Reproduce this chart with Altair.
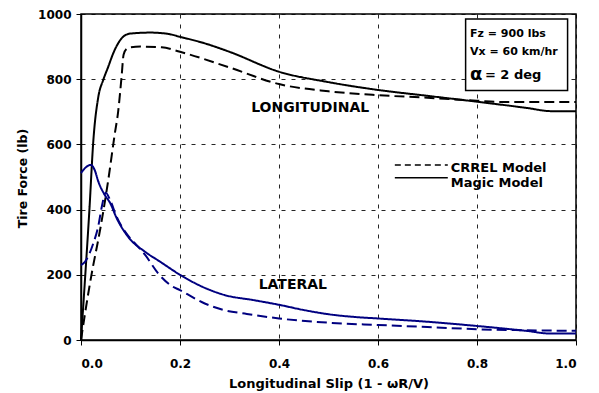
import altair as alt
import pandas as pd

# ---- data ----
long_magic_x = [0.0, 0.008, 0.017, 0.025, 0.035, 0.045, 0.055, 0.065, 0.075, 0.085, 0.10, 0.14, 0.176, 0.20, 0.25, 0.30, 0.40, 0.50, 0.60, 0.70, 0.80, 0.90, 0.95, 1.0]
long_magic_y = [0, 184, 400, 613, 746, 798, 838, 879, 910, 930, 940, 943, 939, 930, 910, 884, 823, 791, 767, 749, 731, 712, 702, 702]

long_crrel_x = [0.0, 0.008, 0.02, 0.04, 0.055, 0.068, 0.075, 0.082, 0.086, 0.092, 0.10, 0.12, 0.163, 0.20, 0.30, 0.40, 0.50, 0.60, 0.70, 0.80, 0.85, 1.0]
long_crrel_y = [0, 80, 190, 350, 490, 630, 700, 808, 875, 893, 898, 900, 898, 884, 836, 785, 763, 751, 743, 734, 730, 730]

lat_magic_x = [0.0, 0.01, 0.02, 0.028, 0.035, 0.048, 0.059, 0.072, 0.095, 0.13, 0.16, 0.20, 0.25, 0.29, 0.35, 0.40, 0.45, 0.50, 0.55, 0.60, 0.70, 0.80, 0.90, 0.947, 1.0]
lat_magic_y = [512, 530, 537, 520, 486, 445, 420, 374, 317, 270, 240, 200, 160, 138, 122, 108, 92, 79, 71, 66, 56, 43, 28, 20, 20]

lat_crrel_x = [0.0, 0.008, 0.025, 0.035, 0.042, 0.05, 0.06, 0.072, 0.095, 0.11, 0.13, 0.156, 0.183, 0.20, 0.25, 0.288, 0.335, 0.40, 0.50, 0.60, 0.70, 0.80, 0.90, 1.0]
lat_crrel_y = [230, 240, 297, 350, 409, 452, 425, 378, 320, 295, 260, 204, 166, 153, 112, 92, 80, 66, 53, 46, 40, 33, 30, 28]

x_ticks = [0.0, 0.2, 0.4, 0.6, 0.8, 1.0]
y_ticks = [0, 200, 400, 600, 800, 1000]

FONT = "DejaVu Sans"

rows = []
for part, model, xs, ys in [
    ("Longitudinal", "CRREL", long_crrel_x, long_crrel_y),
    ("Longitudinal", "Magic", long_magic_x, long_magic_y),
    ("Lateral", "CRREL", lat_crrel_x, lat_crrel_y),
    ("Lateral", "Magic", lat_magic_x, lat_magic_y),
]:
    for i, (a, b) in enumerate(zip(xs, ys)):
        rows.append({"x": a, "y": b, "part": part, "model": model, "idx": i})
df = pd.DataFrame(rows)

xscale = alt.Scale(domain=[0, 1], nice=False, zero=False)
yscale = alt.Scale(domain=[0, 1000], nice=False)

xaxis = alt.Axis(
    values=x_ticks, format=".1f", title="Longitudinal Slip (1 - ωR/V)",
    grid=True, gridDash=[4, 6], gridColor="#000000", gridWidth=1, gridOpacity=0.85,
    domainColor="#000000", domainWidth=1.5, tickColor="#000000", tickSize=5,
    labelFont=FONT, labelFontWeight="bold", labelFontSize=12, labelColor="#000000",
    labelPadding=13,
    titleFont=FONT, titleFontWeight="bold", titleFontSize=13, titleColor="#000000",
    titleY=47, titleBaseline="alphabetic",
)
yaxis = alt.Axis(
    values=y_ticks, format="d", title="Tire Force (lb)",
    grid=True, gridDash=[4, 6], gridColor="#000000", gridWidth=1, gridOpacity=0.85,
    domainColor="#000000", domainWidth=1.5, tickColor="#000000", tickSize=5,
    labelFont=FONT, labelFontWeight="bold", labelFontSize=12, labelColor="#000000",
    labelPadding=5,
    titleFont=FONT, titleFontWeight="bold", titleFontSize=12.5, titleColor="#000000",
    titleX=-59, titleY=164, titleAngle=-90, titleBaseline="middle", titleAlign="center",
)

X = lambda f="x": alt.X(f"{f}:Q", scale=xscale, axis=xaxis)
Y = lambda f="y": alt.Y(f"{f}:Q", scale=yscale, axis=yaxis)

lines = alt.Chart(df).mark_line(strokeWidth=2, interpolate="monotone").encode(
    x=X(), y=Y(),
    color=alt.Color("part:N", scale=alt.Scale(domain=["Longitudinal", "Lateral"], range=["#000000", "#000080"]), legend=None),
    strokeDash=alt.StrokeDash("model:N", scale=alt.Scale(domain=["CRREL", "Magic"], range=[[10, 5], [1, 0]]), legend=None),
    order=alt.Order("idx:Q"),
)

# curve labels
lab_df = pd.DataFrame({"x": [0.463, 0.428], "y": [712, 169], "t": ["LONGITUDINAL", "LATERAL"]})
labels = alt.Chart(lab_df).mark_text(font=FONT, fontWeight="bold", fontSize=14, color="#000000", baseline="middle").encode(
    x=X(), y=Y(), text="t:N")

# info box
box_df = pd.DataFrame({"x": [0.777], "x2": [0.983], "y": [985], "y2": [765]})
box = alt.Chart(box_df).mark_rect(fill="white", stroke="#000000", strokeWidth=1.5).encode(
    x=X(), x2="x2:Q", y=Y(), y2="y2:Q")

info_df = pd.DataFrame({"x": [0.786, 0.786], "y": [939, 883], "t": ["Fz = 900 lbs", "Vx = 60 km/hr"]})
info = alt.Chart(info_df).mark_text(font=FONT, fontWeight="bold", fontSize=11, color="#000000", align="left", baseline="middle").encode(
    x=X(), y=Y(), text="t:N")
alpha_df = pd.DataFrame({"x": [0.786], "y": [813], "t": ["α"]})
alpha = alt.Chart(alpha_df).mark_text(font=FONT, fontWeight="bold", fontSize=18, color="#000000", align="left", baseline="middle").encode(
    x=X(), y=Y(), text="t:N")
deg_df = pd.DataFrame({"x": [0.816], "y": [813], "t": ["= 2 deg"]})
deg = alt.Chart(deg_df).mark_text(font=FONT, fontWeight="bold", fontSize=13, color="#000000", align="left", baseline="middle").encode(
    x=X(), y=Y(), text="t:N")

# legend
leg_line_df = pd.DataFrame({"x": [0.634, 0.634], "x2": [0.741, 0.741], "y": [537, 498], "model": ["CRREL", "Magic"]})
leg_lines = alt.Chart(leg_line_df).mark_rule(color="#000000", strokeWidth=1.5).encode(
    x=X(), x2="x2:Q", y=Y(),
    strokeDash=alt.StrokeDash("model:N", scale=alt.Scale(domain=["CRREL", "Magic"], range=[[6, 4], [1, 0]]), legend=None),
)
leg_txt_df = pd.DataFrame({"x": [0.747, 0.747], "y": [527, 483], "t": ["CRREL Model", "Magic Model"]})
leg_txt = alt.Chart(leg_txt_df).mark_text(font=FONT, fontWeight="bold", fontSize=13, color="#000000", align="left", baseline="middle").encode(
    x=X(), y=Y(), text="t:N")

chart = alt.layer(lines, labels, box, info, alpha, deg, leg_lines, leg_txt).resolve_scale(strokeDash="independent").properties(
    width=495, height=326,
    padding={"left": 73, "top": 6, "right": 15, "bottom": 56},
    autosize="none",
    background="white",
).configure_view(stroke="#000000", strokeWidth=1.5)

chart.save("out.html", embed_options={"renderer": "svg", "actions": False})
